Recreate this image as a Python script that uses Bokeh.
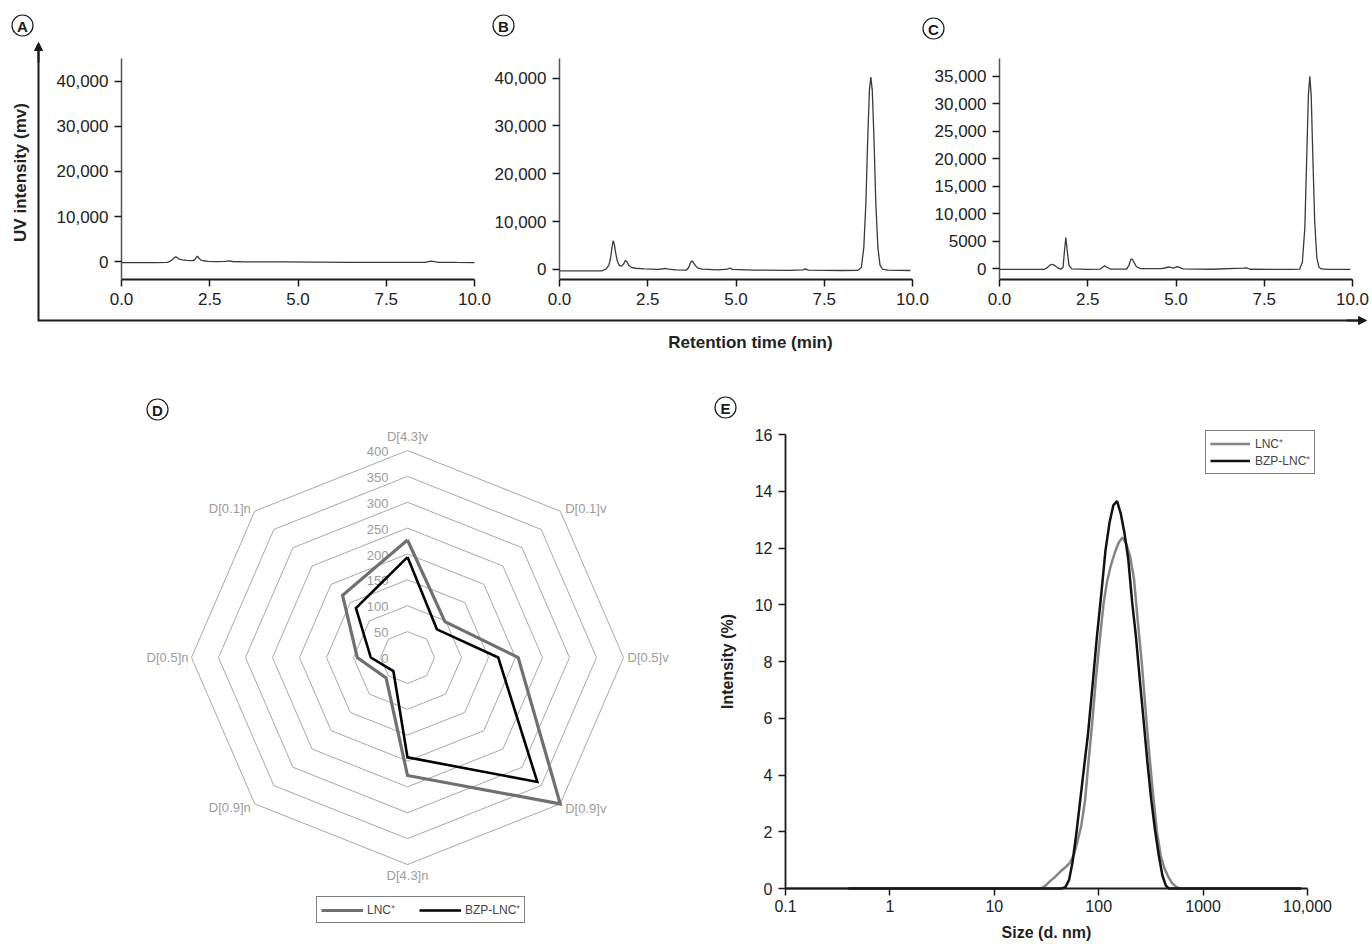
from math import pi, sin, cos, log10
from bokeh.plotting import figure
from bokeh.models import (Range1d, GridBox, Legend, LegendItem, FixedTicker,
                          Arrow, NormalHead, ColumnDataSource)
from bokeh.core.properties import value, field
from bokeh.embed import file_html
from bokeh.resources import INLINE

FONT = "Liberation Sans"

# ---------------- data: chromatograms (retention time, min / UV intensity, mV) ----------------
A_T = [0.0, 0.5, 1.0, 1.3, 1.38, 1.45, 1.5, 1.54, 1.58, 1.64, 1.72, 1.85, 2.02, 2.08, 2.12, 2.15,
       2.19, 2.24, 2.32, 2.45, 2.7, 2.95, 3.05, 3.15, 3.5, 4.5, 5.5, 6.5, 7.5, 8.6, 8.77, 8.95, 9.5, 10.0]
A_V = [-150, -150, -150, -120, 150, 600, 950, 1100, 900, 600, 420, 330, 270, 500, 1000, 1250,
       900, 450, 250, 120, 60, 120, 230, 80, 20, -20, -60, -90, -110, -90, 180, -80, -120, -150]

B_T = [0.0, 0.6, 1.2, 1.32, 1.40, 1.45, 1.49, 1.52, 1.55, 1.59, 1.64, 1.70, 1.76, 1.82, 1.87, 1.91,
       1.96, 2.03, 2.15, 2.4, 2.8, 2.95, 3.0, 3.08, 3.3, 3.6, 3.66, 3.71, 3.75, 3.79, 3.85, 3.92,
       4.05, 4.5, 4.76, 4.82, 4.9, 5.5, 6.5, 6.9, 6.97, 7.05, 8.0, 8.45, 8.55, 8.62, 8.68, 8.73,
       8.78, 8.82, 8.86, 8.91, 8.96, 9.02, 9.08, 9.15, 9.3, 9.94]
B_V = [-300, -300, -280, 100, 900, 2500, 4800, 6000, 5400, 3500, 1700, 800, 700, 1200, 1900, 1600,
       900, 450, 250, 120, 30, 150, 230, 80, -80, -120, 400, 1400, 1800, 1500, 800, 300,
       50, -100, 50, 300, 30, -120, -180, -100, 120, -150, -220, -200, 400, 4500, 14000, 27000,
       37500, 40200, 37500, 27000, 14000, 4500, 900, 50, -150, -220]

C_T = [0.0, 0.6, 1.25, 1.35, 1.42, 1.49, 1.56, 1.64, 1.74, 1.80, 1.84, 1.88, 1.92, 1.97, 2.05, 2.5,
       2.85, 2.93, 2.98, 3.04, 3.15, 3.6, 3.67, 3.72, 3.76, 3.81, 3.88, 4.0, 4.6, 4.8, 4.92, 5.04,
       5.2, 6.0, 6.9, 7.0, 7.1, 8.3, 8.5, 8.58, 8.65, 8.70, 8.75, 8.79, 8.83, 8.88, 8.93, 8.99,
       9.05, 9.12, 9.3, 9.94]
C_V = [-100, -100, -100, 200, 650, 850, 650, 250, -50, 250, 3200, 5700, 3200, 600, 0, -100,
       -50, 350, 550, 300, -20, -50, 700, 1700, 1800, 1200, 400, 60, 50, 350, 150, 420,
       0, -60, 150, 180, -60, -100, -50, 1200, 7500, 19500, 31500, 34950, 31500, 19500, 8500, 2000,
       300, 0, -80, -100]

X_TICKS = [0, 2.5, 5, 7.5, 10]
X_LABELS = ["0.0", "2.5", "5.0", "7.5", "10.0"]
AB_YTICKS = [0, 10000, 20000, 30000, 40000]
AB_YLABELS = ["0", "10,000", "20,000", "30,000", "40,000"]
C_YTICKS = [0, 5000, 10000, 15000, 20000, 25000, 30000, 35000]
C_YLABELS = ["0", "5000", "10,000", "15,000", "20,000", "25,000", "30,000", "35,000"]

# ---------------- data: radar (D) ----------------
RADAR_CATS = ["D[4.3]v", "D[0.1]v", "D[0.5]v", "D[0.9]v", "D[4.3]n", "D[0.9]n", "D[0.5]n", "D[0.1]n"]
RADAR_LNC = [227, 98, 205, 400, 228, 56, 93, 170]
RADAR_BZP = [194, 77, 168, 340, 193, 37, 68, 135]
RADAR_RINGS = [0, 50, 100, 150, 200, 250, 300, 350, 400]

# ---------------- data: DLS size distribution (E) ----------------
LNC_SIZE = [0.1, 28, 31, 34, 38, 43, 48, 53, 58, 63, 68, 74, 80, 87, 94, 102, 111, 120, 131, 143,
            156, 169, 184, 200, 218, 237, 258, 281, 305, 332, 361, 393, 428, 466, 507, 552, 600, 8700]
LNC_INT = [0, 0, 0.1, 0.25, 0.4, 0.6, 0.75, 0.9, 1.2, 1.7, 2.2, 3.1, 4.5, 5.9, 7.4, 8.7, 10.0, 10.8,
           11.4, 11.85, 12.2, 12.37, 12.15, 11.7, 10.9, 9.4, 8.0, 6.3, 4.75, 3.3, 2.0, 1.15, 0.7,
           0.4, 0.18, 0.06, 0, 0]
BZP_SIZE = [0.4, 44, 48, 52, 56, 61, 66, 72, 79, 87, 96, 106, 116, 127, 138, 150, 163, 177, 192,
            209, 227, 247, 268, 292, 317, 345, 375, 408, 440, 470, 8700]
BZP_INT = [0, 0, 0.05, 0.3, 0.9, 1.92, 3.0, 4.2, 5.45, 7.1, 8.85, 10.4, 11.9, 12.9, 13.5, 13.65,
           13.2, 12.5, 11.6, 10.1, 8.9, 7.4, 6.0, 4.5, 3.2, 2.1, 1.2, 0.45, 0.1, 0, 0]
E_XTICKS = [0.1, 1, 10, 100, 1000, 10000]
E_XLABELS = ["0.1", "1", "10", "100", "1000", "10,000"]
E_YTICKS = [0, 2, 4, 6, 8, 10, 12, 14, 16]

SERIES_NAMES = ["LNC\u207a", "BZP-LNC\u207a"]
PANEL_LETTERS = ["A", "B", "C", "D", "E"]

# ---------------- layout: every panel is a full-page transparent layer ----------------
W, H = 1372, 944
GRAY_SERIES = "#707070"
DARK = "#1a1a1a"


def full_range(v0, v1, p0, p1, total):
    """Range over the whole canvas so that v0 sits at pixel p0 and v1 at p1."""
    k = (v1 - v0) / (p1 - p0)
    return v0 - p0 * k, v0 + (total - p0) * k


def layer(xr, yr, **kw):
    p = figure(width=W, height=H, x_range=Range1d(*xr), y_range=Range1d(*yr), min_border=0,
               output_backend="svg", toolbar_location=None, **kw)
    p.border_fill_color = None
    p.background_fill_color = None
    p.outline_line_color = None
    p.grid.visible = False
    return p


def style_axis(ax, size="17px"):
    ax.major_label_text_font = FONT
    ax.major_label_text_font_size = size
    ax.major_label_text_color = "#222222"
    ax.major_tick_in = 0
    ax.major_tick_out = 7
    ax.major_tick_line_color = DARK
    ax.major_tick_line_width = 1.5
    ax.minor_tick_line_color = None
    ax.major_label_standoff = 6


def chromatogram(frame, yb, t, v, yticks, ylabels):
    l, tp, r, b = frame
    x0, x1 = X_TICKS[0], X_TICKS[-1]
    p = layer(full_range(x0, x1, l, r, W), full_range(yb[0], yb[1], H - b, H - tp, H))
    p.line(t, v, line_color="#3a3a3a", line_width=1.3)
    xa, ya = p.xaxis[0], p.yaxis[0]
    xa.fixed_location = yb[0]
    xa.bounds = (x0, x1)
    ya.fixed_location = x0
    ya.bounds = yb
    xa.ticker = FixedTicker(ticks=X_TICKS)
    xa.major_label_overrides = dict(zip(X_TICKS, X_LABELS))
    ya.ticker = FixedTicker(ticks=yticks)
    ya.major_label_overrides = dict(zip(yticks, ylabels))
    style_axis(xa)
    style_axis(ya)
    xa.axis_line_color = DARK
    xa.axis_line_width = 2
    ya.axis_line_color = "#555555"
    ya.axis_line_width = 1.5
    return p


pa = chromatogram((121, 58, 474, 279), (-3900, 45000), A_T, A_V, AB_YTICKS, AB_YLABELS)
pb = chromatogram((559, 58, 912, 279), (-2100, 44100), B_T, B_V, AB_YTICKS, AB_YLABELS)
pc = chromatogram((999, 58, 1352, 279), (-1920, 38200), C_T, C_V, C_YTICKS, C_YLABELS)

# ---------------- radar (D) ----------------
CX, CY = 407, 657
SX, SY = 216 / 400, 207 / 400   # px per unit
pdr = layer((-CX / SX, (W - CX) / SX), (-(H - CY) / SY, CY / SY),
            x_axis_location=None, y_axis_location=None)
n = len(RADAR_CATS)
ang = [2 * pi * i / n for i in range(n)]


def polar(vals):
    xs = [v * sin(a) for v, a in zip(vals, ang)]
    ys = [v * cos(a) for v, a in zip(vals, ang)]
    return xs + xs[:1], ys + ys[:1]


ring_xs, ring_ys = [], []
for r in RADAR_RINGS[1:]:
    xs, ys = polar([r] * n)
    ring_xs.append(xs)
    ring_ys.append(ys)
pdr.multi_line(ring_xs, ring_ys, line_color="#a8a8a8", line_width=1)

pdr.text(x=[0] * len(RADAR_RINGS), y=RADAR_RINGS, text=[str(r) for r in RADAR_RINGS],
         x_offset=-19, y_offset=1, text_align="right", text_baseline="middle",
         text_font=value(FONT), text_font_size="13px", text_color="#9c9c9c")

outer = max(RADAR_RINGS)
cxs, cys = polar([outer] * n)
cat_src = ColumnDataSource(dict(
    x=cxs[:n], y=cys[:n], t=RADAR_CATS,
    align=["center", "left", "left", "left", "center", "right", "right", "right"],
    base=["bottom", "middle", "middle", "middle", "top", "middle", "middle", "middle"],
    dx=[0, 5, 4, 5, 0, -4, -3, -4],
    dy=[-7, -3, 0, 5, 3, 4, 0, -3],
))
pdr.text(x="x", y="y", text="t", source=cat_src, x_offset="dx", y_offset="dy",
         text_align=field("align"), text_baseline=field("base"),
         text_font=value(FONT), text_font_size="13px", text_color="#9c9c9c")

lx, ly = polar(RADAR_LNC)
bx, by = polar(RADAR_BZP)
r_lnc = pdr.line(lx, ly, line_color=GRAY_SERIES, line_width=3.2, line_join="miter")
r_bzp = pdr.line(bx, by, line_color="black", line_width=2.6, line_join="miter")
leg_d = Legend(items=[LegendItem(label=SERIES_NAMES[0], renderers=[r_lnc]),
                      LegendItem(label=SERIES_NAMES[1], renderers=[r_bzp])],
               location=(316, H - 923), orientation="horizontal",
               glyph_width=42, glyph_height=16, label_height=16, label_standoff=4,
               spacing=24, padding=4, margin=0,
               label_text_font=FONT, label_text_font_size="12px",
               border_line_color="black", border_line_width=1, background_fill_color="white")
pdr.add_layout(leg_d)

# ---------------- DLS (E) ----------------
EL, ET, ER, EB = 785, 434, 1307, 888
lx0, lx1 = log10(E_XTICKS[0]), log10(E_XTICKS[-1])
ls, le = full_range(lx0, lx1, EL, ER, W)
pe = layer((10 ** ls, 10 ** le), full_range(E_YTICKS[0], E_YTICKS[-1], H - EB, H - ET, H),
           x_axis_type="log")
r_el = pe.line(LNC_SIZE, LNC_INT, line_color="#858585", line_width=2.5)
r_eb = pe.line(BZP_SIZE, BZP_INT, line_color="#111111", line_width=2.5)
xa, ya = pe.xaxis[0], pe.yaxis[0]
xa.fixed_location = E_YTICKS[0]
xa.bounds = (E_XTICKS[0], E_XTICKS[-1])
ya.fixed_location = E_XTICKS[0]
ya.bounds = (E_YTICKS[0], E_YTICKS[-1])
xa.ticker = FixedTicker(ticks=E_XTICKS)
xa.major_label_overrides = dict(zip(E_XTICKS, E_XLABELS))
ya.ticker = FixedTicker(ticks=E_YTICKS)
for ax in (xa, ya):
    style_axis(ax, "16px")
    ax.axis_line_color = DARK
    ax.axis_line_width = 1.8
    ax.axis_label_text_font = FONT
    ax.axis_label_text_font_style = "bold"
    ax.axis_label_text_font_size = "16px"
    ax.axis_label_text_color = "#222222"
xa.major_label_standoff = 4
xa.axis_label = "Size (d. nm)"
xa.axis_label_standoff = 9
ya.axis_label = "Intensity (%)"
ya.axis_label_standoff = 16
leg_e = Legend(items=[LegendItem(label=SERIES_NAMES[0], renderers=[r_el]),
                      LegendItem(label=SERIES_NAMES[1], renderers=[r_eb])],
               location=(1205, H - 474), orientation="vertical",
               glyph_width=40, glyph_height=15, label_height=15, label_standoff=5,
               spacing=0, padding=4, margin=0,
               label_text_font=FONT, label_text_font_size="12px",
               border_line_color="black", border_line_width=1, background_fill_color="white")
pe.add_layout(leg_e)

# ---------------- background layer: outer arrows, shared labels, panel letters ----------------
bg = layer((0, W), (0, H), x_axis_location=None, y_axis_location=None)


def Y(py):
    return H - py


OUT_X, OUT_TOP, OUT_Y, OUT_RIGHT = 38, 42, 320, 1366
bg.line([OUT_X, OUT_X, OUT_RIGHT - 6], [Y(OUT_TOP + 6), Y(OUT_Y), Y(OUT_Y)],
        line_color=DARK, line_width=2, line_join="miter")
bg.add_layout(Arrow(end=NormalHead(size=8, fill_color=DARK, line_color=DARK, line_width=1),
                    x_start=OUT_X, y_start=Y(OUT_TOP + 20), x_end=OUT_X, y_end=Y(OUT_TOP),
                    line_color=DARK, line_width=2))
bg.add_layout(Arrow(end=NormalHead(size=8, fill_color=DARK, line_color=DARK, line_width=1),
                    x_start=OUT_RIGHT - 20, y_start=Y(OUT_Y), x_end=OUT_RIGHT, y_end=Y(OUT_Y),
                    line_color=DARK, line_width=2))
bg.text(x=[20], y=[Y(172)], text=["UV intensity (mv)"], angle=pi / 2,
        text_align="center", text_baseline="middle", text_font=value(FONT),
        text_font_style="bold", text_font_size="17px", text_color="#222222")
bg.text(x=[750], y=[Y(342)], text=["Retention time (min)"],
        text_align="center", text_baseline="middle", text_font=value(FONT),
        text_font_style="bold", text_font_size="17px", text_color="#222222")

LETTER_X = [22, 503, 933, 157, 725]
LETTER_Y = [Y(25), Y(25), Y(28), Y(409), Y(407)]
bg.scatter(LETTER_X, LETTER_Y, marker="circle", size=21, fill_color="white",
           line_color=DARK, line_width=1.2)
bg.text(x=LETTER_X, y=LETTER_Y, text=PANEL_LETTERS, y_offset=1,
        text_align="center", text_baseline="middle", text_font=value(FONT),
        text_font_style="bold", text_font_size="15px", text_color=DARK)

root = GridBox(children=[(bg, 0, 0), (pa, 0, 0), (pb, 0, 0), (pc, 0, 0), (pdr, 0, 0), (pe, 0, 0)])

open("out.html", "w").write(file_html(root, INLINE))
